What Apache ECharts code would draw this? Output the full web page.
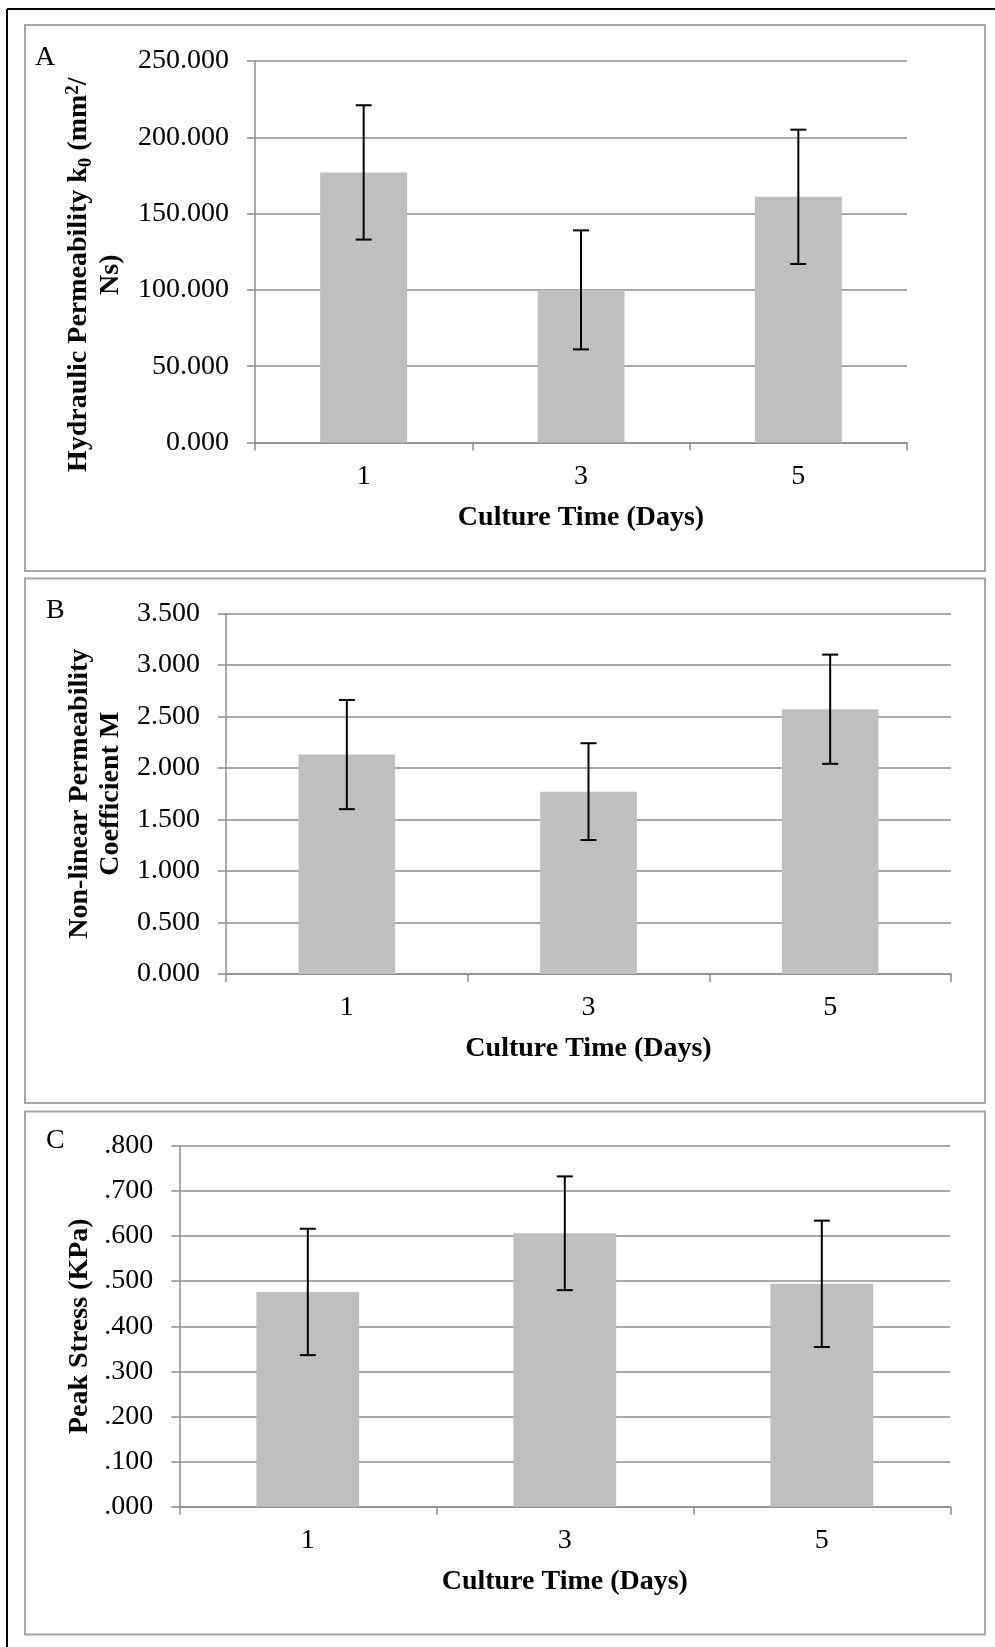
<!DOCTYPE html>
<html>
<head>
<meta charset="utf-8">
<script src="https://cdn.jsdelivr.net/npm/echarts@6/dist/echarts.min.js"></script>
<style>
html,body{margin:0;padding:0;background:#fff;}
#chart{width:995px;height:1647px;}
</style>
</head>
<body>
<div id="chart"></div>
<script>
// ---- data ----
var categories = ['1', '3', '5'];
var permMean = [177, 100, 161];
var permErr = [44, 39, 44];
var coefMean = [2.13, 1.77, 2.57];
var coefErr = [0.53, 0.47, 0.53];
var stressMean = [0.476, 0.606, 0.494];
var stressErr = [0.140, 0.126, 0.140];
var panelLetters = ['A', 'B', 'C'];
var xTitle = 'Culture Time (Days)';

var FONT = "'Liberation Serif', 'Times New Roman', serif";
var GRID_COLOR = '#8c8c8c';

function errData(mean, err) {
  return mean.map(function (m, i) { return [i, m - err[i], m + err[i]]; });
}

function renderErr(params, api) {
  var x = api.value(0), lo = api.value(1), hi = api.value(2);
  var pHi = api.coord([x, hi]);
  var pLo = api.coord([x, lo]);
  var hw = 8;
  var st = { stroke: '#000', lineWidth: 2 };
  return {
    type: 'group',
    children: [
      { type: 'line', shape: { x1: pHi[0], y1: pHi[1], x2: pLo[0], y2: pLo[1] }, style: st },
      { type: 'line', shape: { x1: pHi[0] - hw, y1: pHi[1], x2: pHi[0] + hw, y2: pHi[1] }, style: st },
      { type: 'line', shape: { x1: pLo[0] - hw, y1: pLo[1], x2: pLo[0] + hw, y2: pLo[1] }, style: st }
    ]
  };
}

var grids = [
  { left: 255, top: 61, width: 652, height: 381.5 },
  { left: 226, top: 613.4, width: 725, height: 360.6 },
  { left: 179.3, top: 1145.7, width: 771, height: 361.1 }
];
grids.forEach(function (g) { g.containLabel = false; g.outerBoundsMode = 'none'; });

function xAxisFor(idx) {
  return {
    type: 'category', gridIndex: idx, data: categories,
    boundaryGap: true,
    axisLine: { show: true, lineStyle: { color: GRID_COLOR, width: 1.5 } },
    axisTick: { show: true, length: 8, alignWithLabel: false, lineStyle: { color: GRID_COLOR, width: 1.5 } },
    axisLabel: { color: '#000', fontFamily: FONT, fontSize: 28, margin: 20 },
    splitLine: { show: false },
    name: xTitle, nameLocation: 'middle', nameGap: 61,
    nameTextStyle: { color: '#000', fontFamily: FONT, fontSize: 28, fontWeight: 'bold' }
  };
}

var subRich = {
  t: { fontFamily: FONT, fontSize: 28, fontWeight: 'bold', color: '#000', lineHeight: 32 },
  sub: { fontFamily: FONT, fontSize: 19, fontWeight: 'bold', color: '#000', lineHeight: 18, verticalAlign: 'bottom' },
  sup: { fontFamily: FONT, fontSize: 19, fontWeight: 'bold', color: '#000', lineHeight: 18, verticalAlign: 'top' }
};

function yAxisFor(idx, max, interval, fmt, name, gap, lh, padding, rich) {
  var ax = {
    type: 'value', gridIndex: idx, min: 0, max: max, interval: interval,
    axisLine: { show: true, lineStyle: { color: GRID_COLOR, width: 1.5 } },
    axisTick: { show: true, length: 8, lineStyle: { color: GRID_COLOR, width: 1.5 } },
    axisLabel: { color: '#000', fontFamily: FONT, fontSize: 28, margin: 26, formatter: fmt },
    splitLine: { show: true, lineStyle: { color: GRID_COLOR, width: 1.5 } },
    name: name, nameLocation: 'middle', nameGap: gap, nameRotate: 90,
    nameTextStyle: { color: '#000', fontFamily: FONT, fontSize: 28, fontWeight: 'bold', lineHeight: lh, align: 'center', padding: padding }
  };
  if (rich) ax.nameTextStyle.rich = rich;
  return ax;
}

var fmt3 = function (v) { return v.toFixed(3); };
var fmtDot = function (v) { return v.toFixed(3).replace(/^0/, ''); };

var option = {
  animation: false,
  backgroundColor: '#fff',
  grid: grids,
  xAxis: [xAxisFor(0), xAxisFor(1), xAxisFor(2)],
  yAxis: [
    yAxisFor(0, 250, 50, fmt3,
      '{t|Hydraulic Permeability k}{sub|0}{t| (mm}{sup|2}{t|/}\n{t|Ns)}', 125, 32, [0, 46, 0, 0], subRich),
    yAxisFor(1, 3.5, 0.5, fmt3, 'Non-linear Permeability\nCoefficient M', 96, 31, 0, null),
    yAxisFor(2, 0.8, 0.1, fmtDot, 'Peak Stress (KPa)', 82, 28, 0, null)
  ],
  series: [
    { type: 'bar', xAxisIndex: 0, yAxisIndex: 0, data: permMean, barWidth: '40%', itemStyle: { color: '#bfbfbf' } },
    { type: 'custom', xAxisIndex: 0, yAxisIndex: 0, data: errData(permMean, permErr), renderItem: renderErr, encode: { x: 0, y: [1, 2] }, z: 5 },
    { type: 'bar', xAxisIndex: 1, yAxisIndex: 1, data: coefMean, barWidth: '40%', itemStyle: { color: '#bfbfbf' } },
    { type: 'custom', xAxisIndex: 1, yAxisIndex: 1, data: errData(coefMean, coefErr), renderItem: renderErr, encode: { x: 0, y: [1, 2] }, z: 5 },
    { type: 'bar', xAxisIndex: 2, yAxisIndex: 2, data: stressMean, barWidth: '40%', itemStyle: { color: '#bfbfbf' } },
    { type: 'custom', xAxisIndex: 2, yAxisIndex: 2, data: errData(stressMean, stressErr), renderItem: renderErr, encode: { x: 0, y: [1, 2] }, z: 5 }
  ],
  graphic: [
    // outer frame (top and left)
    { type: 'line', shape: { x1: 7, y1: 9, x2: 995, y2: 9 }, style: { stroke: '#000', lineWidth: 2 }, silent: true },
    { type: 'line', shape: { x1: 7, y1: 9, x2: 7, y2: 1647 }, style: { stroke: '#000', lineWidth: 2 }, silent: true },
    // panel boxes
    { type: 'rect', shape: { x: 25, y: 25, width: 960, height: 546 }, style: { fill: 'none', stroke: '#a6a6a6', lineWidth: 2 }, silent: true, z: -1 },
    { type: 'rect', shape: { x: 25, y: 578.5, width: 960, height: 524.5 }, style: { fill: 'none', stroke: '#a6a6a6', lineWidth: 2 }, silent: true, z: -1 },
    { type: 'rect', shape: { x: 25, y: 1111.5, width: 960, height: 523 }, style: { fill: 'none', stroke: '#a6a6a6', lineWidth: 2 }, silent: true, z: -1 },
    // panel letters
    { type: 'text', left: 35, top: 44, style: { text: panelLetters[0], font: '28px ' + FONT, fill: '#000' } },
    { type: 'text', left: 46, top: 597, style: { text: panelLetters[1], font: '28px ' + FONT, fill: '#000' } },
    { type: 'text', left: 46, top: 1127, style: { text: panelLetters[2], font: '28px ' + FONT, fill: '#000' } }
  ]
};

var chart = echarts.init(document.getElementById('chart'), null, { renderer: 'canvas', width: 995, height: 1647 });
chart.setOption(option);
</script>
</body>
</html>
